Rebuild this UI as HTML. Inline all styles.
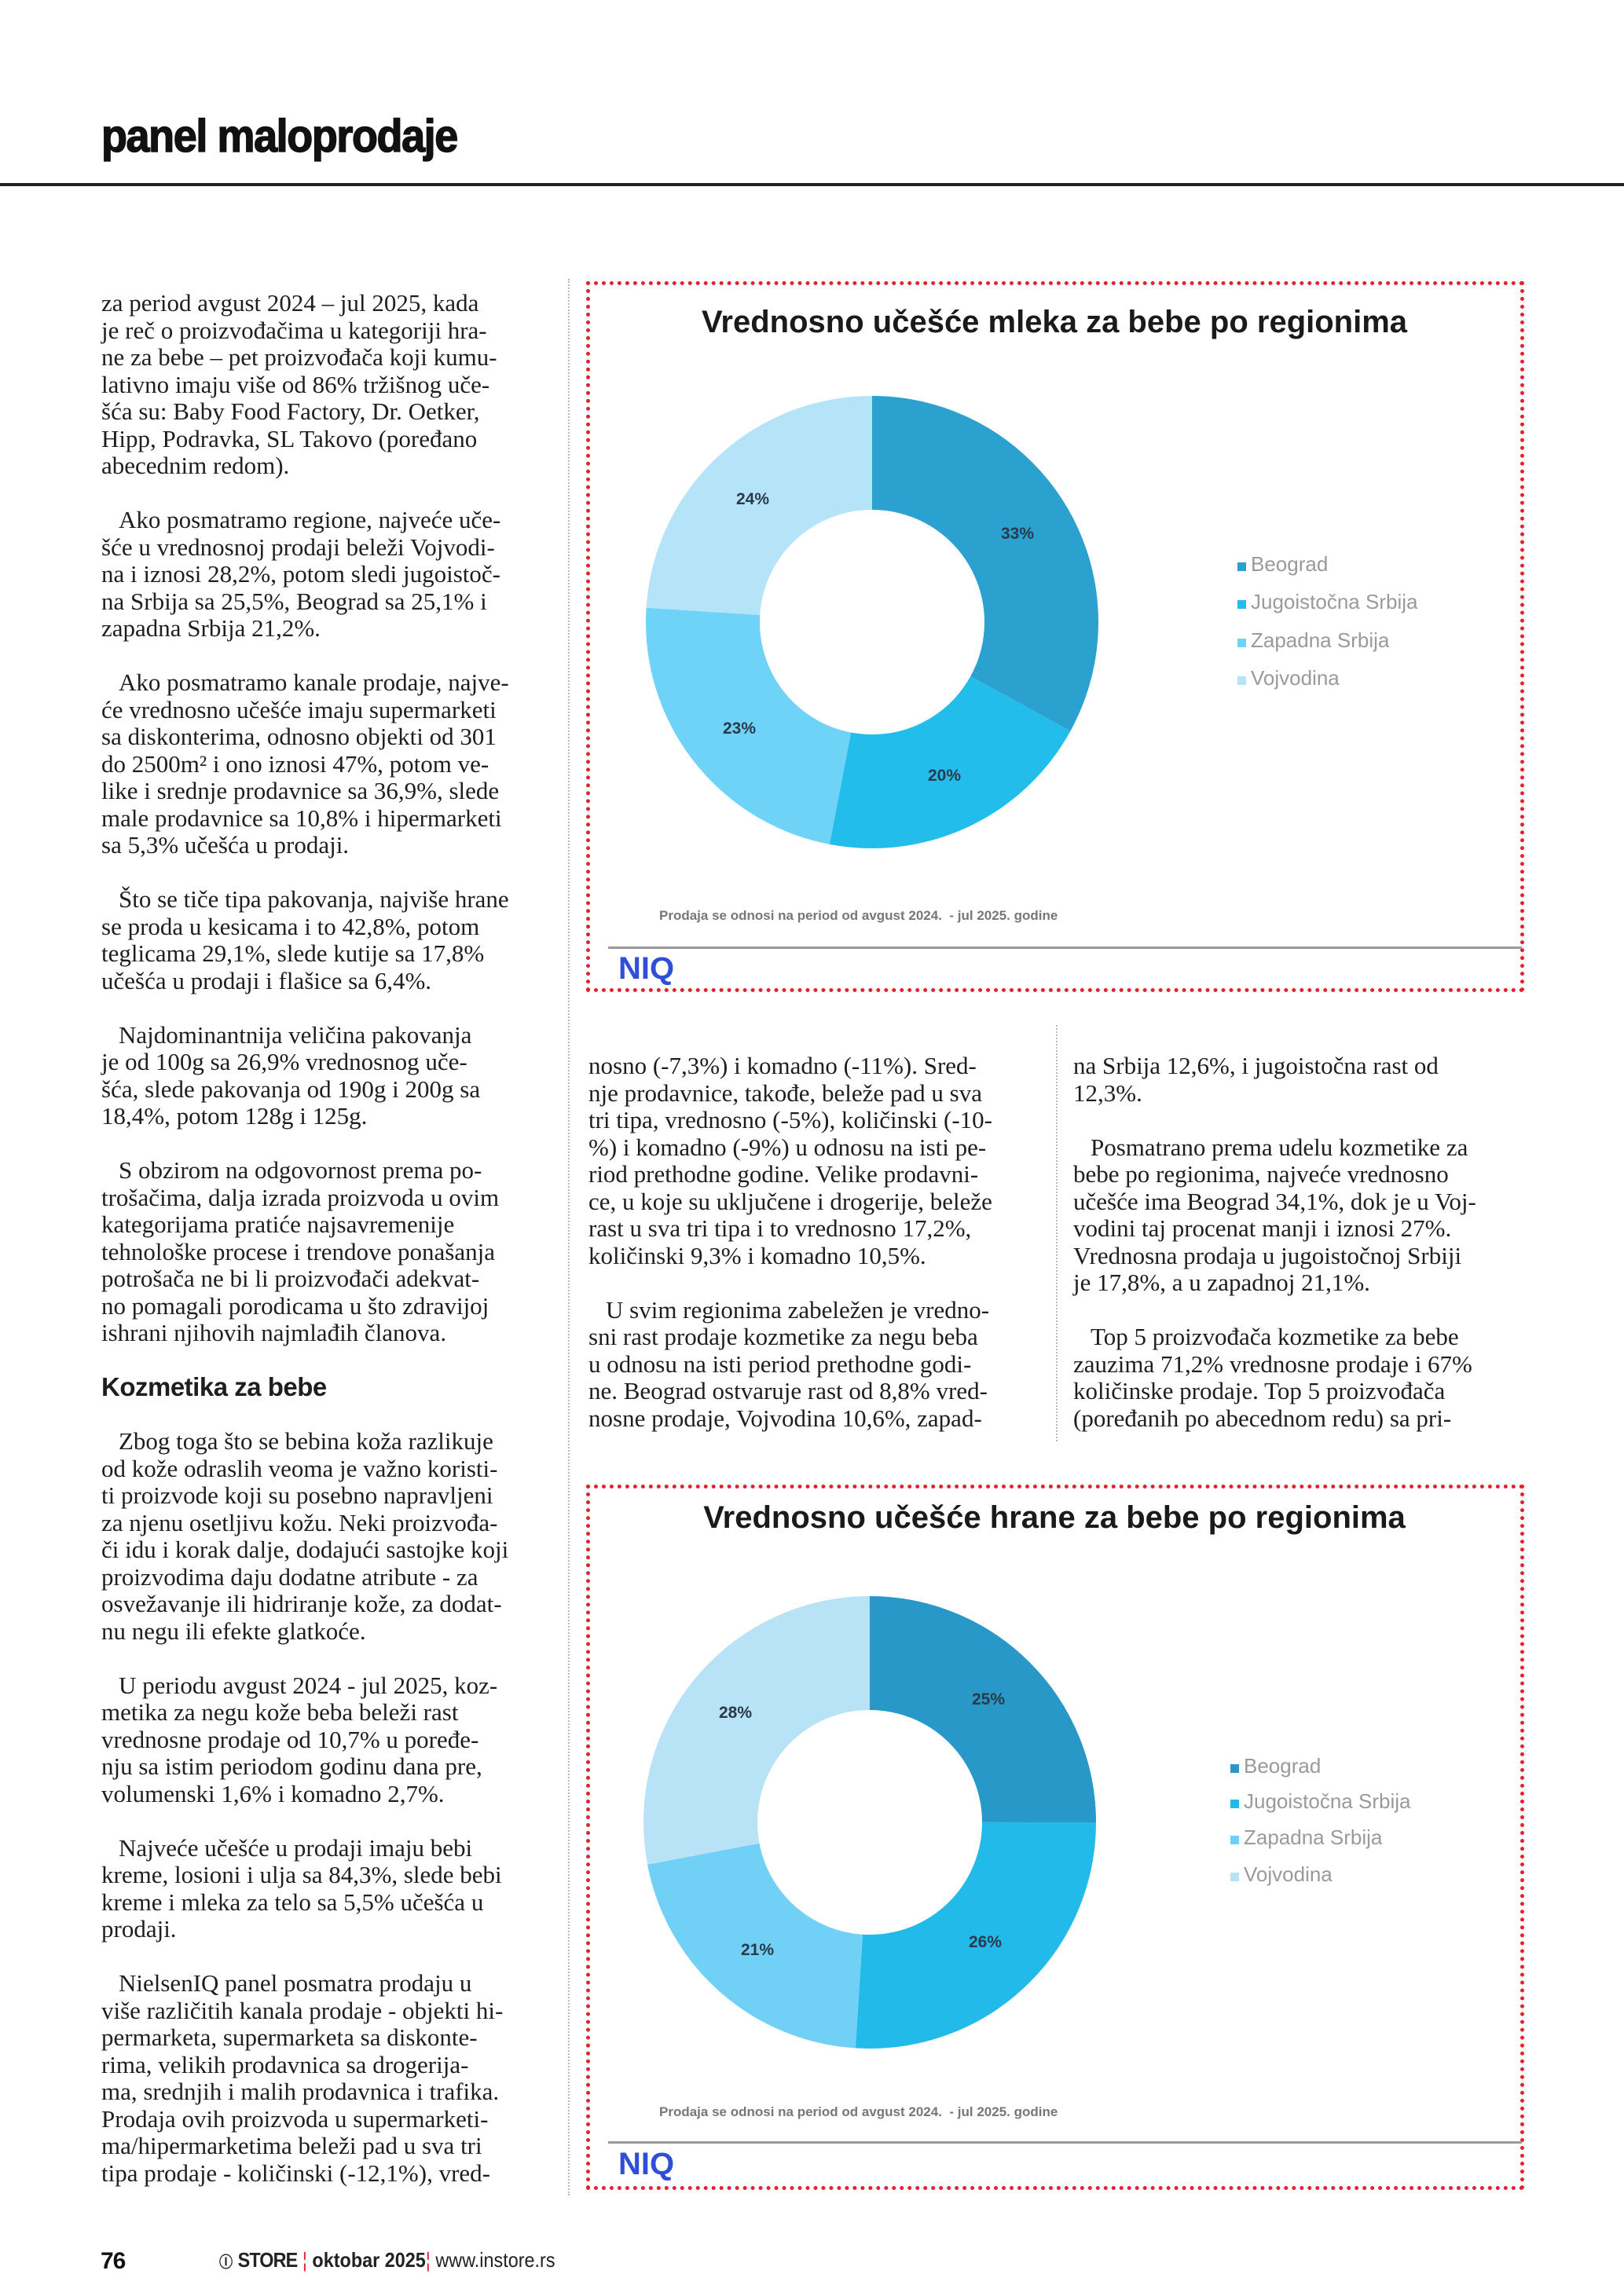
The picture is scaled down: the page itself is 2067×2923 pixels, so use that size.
<!DOCTYPE html>
<html><head><meta charset="utf-8">
<style>
*{margin:0;padding:0;box-sizing:border-box}
body{width:2067px;height:2923px;background:#fff;position:relative;overflow:hidden;font-family:"Liberation Serif",serif;color:#1a1a1a}
.abs{position:absolute}
.col{position:absolute;font-size:31px;line-height:34.5px;white-space:nowrap;color:#1e1e1e}
.col div{height:34.5px}
.ind{padding-left:22px}
.box{position:absolute;border:5px dotted #e3222b}
.ttl{position:absolute;font-family:"Liberation Sans",sans-serif;font-weight:bold;font-size:40px;color:#1a1a1a;white-space:nowrap;transform:translateX(-50%)}
.leg{position:absolute;font-family:"Liberation Sans",sans-serif;font-size:26px;color:#9a9a9a;line-height:30px;white-space:nowrap}
.leg span{display:inline-block;width:11px;height:11px;margin-right:6px}
.lab{position:absolute;font-family:"Liberation Sans",sans-serif;font-weight:bold;font-size:21px;color:#2a3a4a;transform:translate(-50%,-50%)}
.fn{position:absolute;font-family:"Liberation Sans",sans-serif;font-weight:bold;font-size:17px;color:#777;white-space:nowrap}
.niq{position:absolute;font-family:"Liberation Sans",sans-serif;font-weight:bold;font-size:40px;color:#2f4fd6}
.gl{position:absolute;height:3px;background:#999}
</style></head><body>

<div class="abs" style="left:129px;top:140px;font-family:'Liberation Sans',sans-serif;font-weight:bold;font-size:58px;letter-spacing:-1.5px;transform:scaleX(0.93);transform-origin:left;white-space:nowrap;color:#111;-webkit-text-stroke:1.5px #111">panel maloprodaje</div>
<div class="abs" style="left:0;top:233px;width:2067px;height:4px;background:#222"></div>

<div class="abs" style="left:723px;top:355px;height:2440px;border-left:2px dotted #bbb"></div>
<div class="abs" style="left:1344px;top:1305px;height:530px;border-left:2px dotted #bbb"></div>

<div class="col" style="left:129px;top:369px">
<div>za period avgust 2024 – jul 2025, kada</div>
<div>je reč o proizvođačima u kategoriji hra-</div>
<div>ne za bebe – pet proizvođača koji kumu-</div>
<div>lativno imaju više od 86% tržišnog uče-</div>
<div>šća su: Baby Food Factory, Dr. Oetker,</div>
<div>Hipp, Podravka, SL Takovo (poređano</div>
<div>abecednim redom).</div>
<div></div>
<div class="ind">Ako posmatramo regione, najveće uče-</div>
<div>šće u vrednosnoj prodaji beleži Vojvodi-</div>
<div>na i iznosi 28,2%, potom sledi jugoistoč-</div>
<div>na Srbija sa 25,5%, Beograd sa 25,1% i</div>
<div>zapadna Srbija 21,2%.</div>
<div></div>
<div class="ind">Ako posmatramo kanale prodaje, najve-</div>
<div>će vrednosno učešće imaju supermarketi</div>
<div>sa diskonterima, odnosno objekti od 301</div>
<div>do 2500m² i ono iznosi 47%, potom ve-</div>
<div>like i srednje prodavnice sa 36,9%, slede</div>
<div>male prodavnice sa 10,8% i hipermarketi</div>
<div>sa 5,3% učešća u prodaji.</div>
<div></div>
<div class="ind">Što se tiče tipa pakovanja, najviše hrane</div>
<div>se proda u kesicama i to 42,8%, potom</div>
<div>teglicama 29,1%, slede kutije sa 17,8%</div>
<div>učešća u prodaji i flašice sa 6,4%.</div>
<div></div>
<div class="ind">Najdominantnija veličina pakovanja</div>
<div>je od 100g sa 26,9% vrednosnog uče-</div>
<div>šća, slede pakovanja od 190g i 200g sa</div>
<div>18,4%, potom 128g i 125g.</div>
<div></div>
<div class="ind">S obzirom na odgovornost prema po-</div>
<div>trošačima, dalja izrada proizvoda u ovim</div>
<div>kategorijama pratiće najsavremenije</div>
<div>tehnološke procese i trendove ponašanja</div>
<div>potrošača ne bi li proizvođači adekvat-</div>
<div>no pomagali porodicama u što zdravijoj</div>
<div>ishrani njihovih najmlađih članova.</div>
<div></div>
<div style="font-family:'Liberation Sans',sans-serif;font-weight:bold;font-size:33px;letter-spacing:-0.5px">Kozmetika za bebe</div>
<div></div>
<div class="ind">Zbog toga što se bebina koža razlikuje</div>
<div>od kože odraslih veoma je važno koristi-</div>
<div>ti proizvode koji su posebno napravljeni</div>
<div>za njenu osetljivu kožu. Neki proizvođa-</div>
<div>či idu i korak dalje, dodajući sastojke koji</div>
<div>proizvodima daju dodatne atribute - za</div>
<div>osvežavanje ili hidriranje kože, za dodat-</div>
<div>nu negu ili efekte glatkoće.</div>
<div></div>
<div class="ind">U periodu avgust 2024 - jul 2025, koz-</div>
<div>metika za negu kože beba beleži rast</div>
<div>vrednosne prodaje od 10,7% u poređe-</div>
<div>nju sa istim periodom godinu dana pre,</div>
<div>volumenski 1,6% i komadno 2,7%.</div>
<div></div>
<div class="ind">Najveće učešće u prodaji imaju bebi</div>
<div>kreme, losioni i ulja sa 84,3%, slede bebi</div>
<div>kreme i mleka za telo sa 5,5% učešća u</div>
<div>prodaji.</div>
<div></div>
<div class="ind">NielsenIQ panel posmatra prodaju u</div>
<div>više različitih kanala prodaje - objekti hi-</div>
<div>permarketa, supermarketa sa diskonte-</div>
<div>rima, velikih prodavnica sa drogerija-</div>
<div>ma, srednjih i malih prodavnica i trafika.</div>
<div>Prodaja ovih proizvoda u supermarketi-</div>
<div>ma/hipermarketima beleži pad u sva tri</div>
<div>tipa prodaje - količinski (-12,1%), vred-</div>
</div>

<div class="col" style="left:749px;top:1340px">
<div>nosno (-7,3%) i komadno (-11%). Sred-</div>
<div>nje prodavnice, takođe, beleže pad u sva</div>
<div>tri tipa, vrednosno (-5%), količinski (-10-</div>
<div>%) i komadno (-9%) u odnosu na isti pe-</div>
<div>riod prethodne godine. Velike prodavni-</div>
<div>ce, u koje su uključene i drogerije, beleže</div>
<div>rast u sva tri tipa i to vrednosno 17,2%,</div>
<div>količinski 9,3% i komadno 10,5%.</div>
<div></div>
<div class="ind">U svim regionima zabeležen je vredno-</div>
<div>sni rast prodaje kozmetike za negu beba</div>
<div>u odnosu na isti period prethodne godi-</div>
<div>ne. Beograd ostvaruje rast od 8,8% vred-</div>
<div>nosne prodaje, Vojvodina 10,6%, zapad-</div>
</div>

<div class="col" style="left:1366px;top:1340px">
<div>na Srbija 12,6%, i jugoistočna rast od</div>
<div>12,3%.</div>
<div></div>
<div class="ind">Posmatrano prema udelu kozmetike za</div>
<div>bebe po regionima, najveće vrednosno</div>
<div>učešće ima Beograd 34,1%, dok je u Voj-</div>
<div>vodini taj procenat manji i iznosi 27%.</div>
<div>Vrednosna prodaja u jugoistočnoj Srbiji</div>
<div>je 17,8%, a u zapadnoj 21,1%.</div>
<div></div>
<div class="ind">Top 5 proizvođača kozmetike za bebe</div>
<div>zauzima 71,2% vrednosne prodaje i 67%</div>
<div>količinske prodaje. Top 5 proizvođača</div>
<div>(poređanih po abecednom redu) sa pri-</div>
</div>

<!-- Chart 1 -->
<div class="box" style="left:746px;top:358px;width:1194px;height:905px"></div>
<div class="ttl" style="left:1342px;top:388px">Vrednosno učešće mleka za bebe po regionima</div>
<svg class="abs" style="left:0;top:0" width="2067" height="2923">
<g transform="rotate(-90 1110 792)" fill="none" stroke-width="145">
<circle cx="1110" cy="792" r="215.5" stroke="#2aa1cf" stroke-dasharray="446.8 2000" stroke-dashoffset="0"/>
<circle cx="1110" cy="792" r="215.5" stroke="#22bdea" stroke-dasharray="270.8 2000" stroke-dashoffset="-446.8"/>
<circle cx="1110" cy="792" r="215.5" stroke="#6fd2f7" stroke-dasharray="311.4 2000" stroke-dashoffset="-717.6"/>
<circle cx="1110" cy="792" r="215.5" stroke="#b5e3f7" stroke-dasharray="325 2000" stroke-dashoffset="-1029"/>
</g>
<g transform="rotate(-90 1107 2320)" fill="none" stroke-width="145">
<circle cx="1107" cy="2320" r="215.5" stroke="#2898c8" stroke-dasharray="338.5 2000" stroke-dashoffset="0"/>
<circle cx="1107" cy="2320" r="215.5" stroke="#22bae8" stroke-dasharray="352 2000" stroke-dashoffset="-338.5"/>
<circle cx="1107" cy="2320" r="215.5" stroke="#70d0f5" stroke-dasharray="284.3 2000" stroke-dashoffset="-690.5"/>
<circle cx="1107" cy="2320" r="215.5" stroke="#b8e2f6" stroke-dasharray="379.1 2000" stroke-dashoffset="-974.8"/>
</g>
</svg>
<div class="lab" style="left:958px;top:636px">24%</div>
<div class="lab" style="left:1295px;top:680px">33%</div>
<div class="lab" style="left:941px;top:928px">23%</div>
<div class="lab" style="left:1202px;top:988px">20%</div>
<div class="leg" style="left:1575px;top:703px"><span style="background:#2aa1cf"></span>Beograd</div>
<div class="leg" style="left:1575px;top:751px"><span style="background:#22bdea"></span>Jugoistočna Srbija</div>
<div class="leg" style="left:1575px;top:800px"><span style="background:#6fd2f7"></span>Zapadna Srbija</div>
<div class="leg" style="left:1575px;top:848px"><span style="background:#b5e3f7"></span>Vojvodina</div>
<div class="fn" style="left:839px;top:1156px">Prodaja se odnosi na period od avgust 2024.&nbsp; - jul 2025. godine</div>
<div class="gl" style="left:774px;top:1205px;width:1163px"></div>
<div class="niq" style="left:787px;top:1211px">NIQ</div>

<!-- Chart 2 -->
<div class="box" style="left:746px;top:1890px;width:1194px;height:898px"></div>
<div class="ttl" style="left:1342px;top:1910px">Vrednosno učešće hrane za bebe po regionima</div>
<div class="lab" style="left:936px;top:2181px">28%</div>
<div class="lab" style="left:1258px;top:2164px">25%</div>
<div class="lab" style="left:964px;top:2483px">21%</div>
<div class="lab" style="left:1254px;top:2473px">26%</div>
<div class="leg" style="left:1566px;top:2233px"><span style="background:#2898c8"></span>Beograd</div>
<div class="leg" style="left:1566px;top:2278px"><span style="background:#22bae8"></span>Jugoistočna Srbija</div>
<div class="leg" style="left:1566px;top:2324px"><span style="background:#70d0f5"></span>Zapadna Srbija</div>
<div class="leg" style="left:1566px;top:2371px"><span style="background:#b8e2f6"></span>Vojvodina</div>
<div class="fn" style="left:839px;top:2679px">Prodaja se odnosi na period od avgust 2024.&nbsp; - jul 2025. godine</div>
<div class="gl" style="left:774px;top:2726px;width:1163px"></div>
<div class="niq" style="left:787px;top:2733px">NIQ</div>

<!-- Footer -->
<div class="abs" style="left:128px;top:2862px;font-family:'Liberation Sans',sans-serif;font-weight:bold;font-size:30px;letter-spacing:-1px;color:#111">76</div>
<div class="abs" style="left:279px;top:2862px;font-family:'Liberation Sans',sans-serif;font-size:26px;white-space:nowrap;color:#222;transform:scaleX(0.9);transform-origin:left"><b style="font-size:19px">Ⓘ</b> <b style="letter-spacing:-1px">STORE</b> <span style="color:#e3222b">¦</span> <b>oktobar 2025</b><span style="color:#e3222b">¦</span> www.instore.rs</div>
</body></html>
